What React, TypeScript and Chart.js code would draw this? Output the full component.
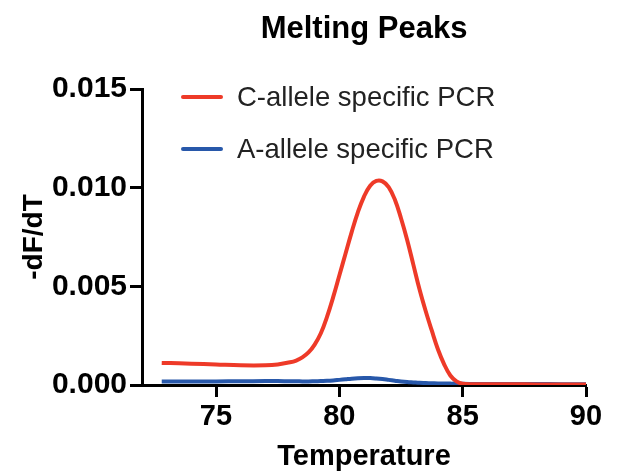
import React, { useEffect, useRef } from "react";
import { Chart, registerables } from "chart.js";

Chart.register(...registerables);

const TITLE = "Melting Peaks";
const X_TITLE = "Temperature";
const Y_TITLE = "-dF/dT";
const X_TICKS = [75, 80, 85, 90];
const Y_TICKS = [0, 0.005, 0.01, 0.015];

const TEMPS = [
  72.8, 73.5, 74, 75, 76, 77, 77.5,
  78, 78.25, 78.5, 78.75, 79, 79.25, 79.5, 79.75, 80, 80.25, 80.5, 80.75,
  81, 81.25, 81.5, 81.75, 82, 82.25, 82.5, 82.75, 83, 83.25, 83.5, 83.75,
  84, 84.25, 84.5, 84.75, 85,
  85.5, 86, 87, 88, 89, 90,
];

const C_ALLELE = [
  0.00112, 0.0011, 0.00108, 0.00104, 0.001, 0.001, 0.00104,
  0.00115, 0.00124, 0.0014, 0.00165, 0.00205, 0.00262, 0.00345, 0.00445,
  0.00555, 0.00665, 0.00775, 0.00875,
  0.00955, 0.0101, 0.01034, 0.01032, 0.01003, 0.0094, 0.00845, 0.00735,
  0.0061, 0.00485, 0.00375, 0.00275,
  0.0018, 0.00105, 0.00048, 0.00018, 0.00006,
  0.00004, 0.00004, 0.00004, 0.00003, 0.00003, 0.00002,
];

const A_ALLELE = [
  0.00018, 0.00018, 0.00018, 0.00018, 0.00019, 0.0002, 0.0002,
  0.00019, 0.00019, 0.00018, 0.00018, 0.00019, 0.0002, 0.00021, 0.00023,
  0.00026, 0.00029, 0.00032, 0.00034,
  0.00035, 0.00035, 0.00033, 0.0003, 0.00026, 0.00022, 0.00018, 0.00015,
  0.00013, 0.00011, 0.0001, 0.00009,
  0.00008, 0.00008, 0.00007, 0.00007, 0.00006,
  0.00005, 0.00005, 0.00005, 0.00005, 0.00004, 0.00004,
];

const SERIES_LABELS = ["C-allele specific PCR", "A-allele specific PCR"];
const SERIES_COLORS = ["rgb(238,58,40)", "rgb(40,88,170)"];

const FONT = "'Liberation Sans', Arial, sans-serif";

const insideLegend = {
  id: "insideLegend",
  afterDatasetsDraw(chart: any) {
    const ctx = chart.ctx;
    const area = chart.chartArea;
    ctx.save();
    ctx.font = `27.5px ${FONT}`;
    ctx.textBaseline = "middle";
    ctx.textAlign = "left";
    chart.data.datasets.forEach((ds: any, i: number) => {
      const y = area.top + 8 + i * 52;
      const x0 = area.left + 41;
      ctx.strokeStyle = ds.borderColor;
      ctx.lineWidth = 4;
      ctx.lineCap = "round";
      ctx.beginPath();
      ctx.moveTo(x0, y);
      ctx.lineTo(x0 + 38, y);
      ctx.stroke();
      ctx.fillStyle = "#222";
      ctx.fillText(ds.label, x0 + 54, y + 1);
    });
    ctx.restore();
  },
};

export default function App() {
  const ref = useRef<HTMLCanvasElement | null>(null);

  useEffect(() => {
    if (!ref.current) return;
    const makeData = (vals: number[]) => TEMPS.map((t, i) => ({ x: t, y: vals[i] }));
    const chart = new Chart(ref.current, {
      type: "line",
      data: {
        datasets: [
          {
            label: SERIES_LABELS[0],
            data: makeData(C_ALLELE),
            borderColor: SERIES_COLORS[0],
            borderWidth: 4,
            pointRadius: 0,
            tension: 0.4,
            fill: false,
          },
          {
            label: SERIES_LABELS[1],
            data: makeData(A_ALLELE),
            borderColor: SERIES_COLORS[1],
            borderWidth: 4,
            pointRadius: 0,
            tension: 0.4,
            fill: false,
          },
        ],
      },
      options: {
        animation: false,
        responsive: true,
        maintainAspectRatio: false,
        layout: { padding: { top: 0, right: 36, bottom: 0, left: 0 } },
        plugins: {
          legend: { display: false },
          tooltip: { enabled: false },
          title: {
            display: true,
            text: TITLE,
            fullSize: false,
            color: "#000",
            font: { family: FONT, size: 31, weight: "bold", lineHeight: 1.2 },
            padding: { top: 11, bottom: 40.8 },
          },
        },
        scales: {
          x: {
            type: "linear",
            min: 72,
            max: 90,
            afterBuildTicks: (scale: any) => {
              scale.ticks = X_TICKS.map((v) => ({ value: v }));
            },
            afterFit: (scale: any) => {
              scale.height = 89;
            },
            ticks: {
              color: "#000",
              padding: 3,
              maxRotation: 0,
              font: { family: FONT, size: 29, weight: "bold" },
            },
            grid: {
              drawOnChartArea: false,
              drawTicks: true,
              tickLength: 12,
              tickWidth: 3,
              tickColor: "#000",
            },
            border: { display: true, color: "#000", width: 3 },
            title: {
              display: true,
              text: X_TITLE,
              color: "#000",
              font: { family: FONT, size: 29, weight: "bold", lineHeight: 1.2 },
              padding: { top: 0, bottom: 0 },
            },
          },
          y: {
            type: "linear",
            min: 0,
            max: 0.015,
            afterBuildTicks: (scale: any) => {
              scale.ticks = Y_TICKS.map((v) => ({ value: v }));
            },
            afterFit: (scale: any) => {
              scale.width = 142;
            },
            ticks: {
              color: "#000",
              padding: 3,
              callback: (v: any) => Number(v).toFixed(3),
              font: { family: FONT, size: 30, weight: "bold" },
            },
            grid: {
              drawOnChartArea: false,
              drawTicks: true,
              tickLength: 12,
              tickWidth: 3,
              tickColor: "#000",
            },
            border: { display: true, color: "#000", width: 3 },
            title: {
              display: true,
              text: Y_TITLE,
              color: "#000",
              font: { family: FONT, size: 28, weight: "bold", lineHeight: 1.2 },
              padding: { top: 17, bottom: 0 },
            },
          },
        },
      },
      plugins: [insideLegend],
    } as any);
    return () => chart.destroy();
  }, []);

  return (
    <div style={{ position: "absolute", left: 0, top: 0, width: 622, height: 474, background: "#fff" }}>
      <canvas ref={ref} />
    </div>
  );
}
